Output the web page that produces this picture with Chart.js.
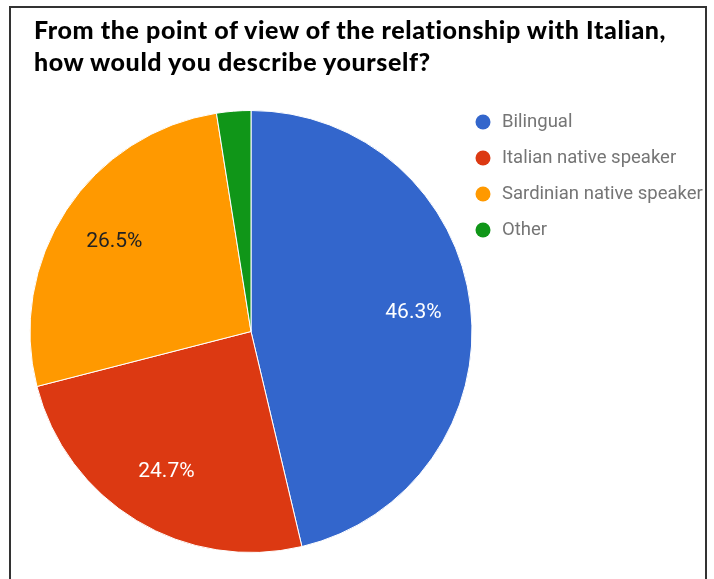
<!DOCTYPE html>
<html>
<head>
<meta charset="utf-8">
<script src="https://cdn.jsdelivr.net/npm/chart.js@4"></script>
<style>
	html, body { margin: 0; padding: 0; background: #fff; }
	body { width: 714px; height: 579px; position: relative; overflow: hidden; }
	#frame {
		position: absolute; left: 9px; top: 6px; width: 698px; height: 620px;
		border: 2px solid #333; box-sizing: border-box;
	}
	#title {
		position: absolute; left: 34px; top: 13px;
		font-family: Lato, "Open Sans", sans-serif; font-weight: 900;
		font-size: 25px; line-height: 32px; letter-spacing: 0.6px; color: #000;
	}
	#chartWrap { position: absolute; left: 0; top: 0; width: 714px; height: 579px; }
</style>
</head>
<body>
<div id="frame"></div>
<canvas id="chartWrap" width="714" height="579"></canvas>
<div id="title">From the point of view of the relationship with Italian,<br>how would you describe yourself?</div>
<script>
const categories = ["Bilingual", "Italian native speaker", "Sardinian native speaker", "Other"];
const shares = [46.3, 24.7, 26.5, 2.5];
const sliceColors = ["#3366cc", "#dc3912", "#ff9900", "#109618"];
const labelColors = ["#ffffff", "#ffffff", "#222222", "#ffffff"];

// slice labels (percent text inside each slice) + legend on the right
const pieExtras = {
	id: "pieExtras",
	afterDatasetsDraw(chart) {
		const ctx = chart.ctx;
		const meta = chart.getDatasetMeta(0);
		const values = chart.data.datasets[0].data;
		const total = values.reduce((a, b) => a + b, 0);

		ctx.save();
		ctx.font = "21px Roboto, Arial, sans-serif";
		ctx.textAlign = "center";
		ctx.textBaseline = "middle";
		meta.data.forEach((arc, i) => {
			const pct = values[i] / total * 100;
			if (pct < 5) return; // too small to carry a label
			const mid = (arc.startAngle + arc.endAngle) / 2;
			const r = arc.outerRadius * 0.74;
			ctx.fillStyle = labelColors[i];
			ctx.fillText(pct.toFixed(1) + "%", arc.x + Math.cos(mid) * r, arc.y + Math.sin(mid) * r);
		});

		// legend
		const lx = 483, ly = 122, step = 36;
		ctx.font = "18.5px Roboto, Arial, sans-serif";
		ctx.textAlign = "left";
		chart.data.labels.forEach((lab, i) => {
			const y = ly + i * step;
			ctx.beginPath();
			ctx.arc(lx, y, 7.5, 0, Math.PI * 2);
			ctx.fillStyle = sliceColors[i];
			ctx.fill();
			ctx.fillStyle = "#757575";
			ctx.fillText(lab, lx + 19, y);
		});
		ctx.restore();
	}
};

new Chart(document.getElementById("chartWrap"), {
	type: "pie",
	data: {
		labels: categories,
		datasets: [{
			data: shares,
			backgroundColor: sliceColors,
			borderColor: "#ffffff",
			borderWidth: 1
		}]
	},
	options: {
		responsive: false,
		animation: false,
		layout: { padding: { left: 29, top: 110, right: 241, bottom: 26 } },
		plugins: {
			legend: { display: false },
			tooltip: { enabled: false }
		}
	},
	plugins: [pieExtras]
});
</script>
</body>
</html>
